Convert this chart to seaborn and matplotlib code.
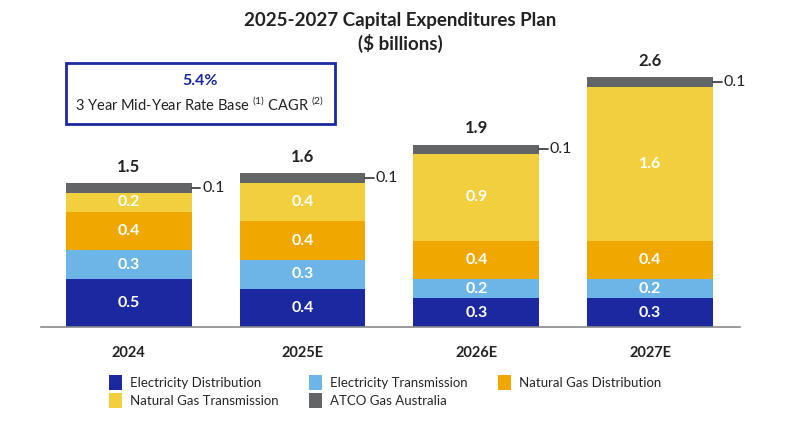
import numpy as np
import pandas as pd
import matplotlib
matplotlib.use('Agg')
import matplotlib.pyplot as plt
from matplotlib.patches import Patch, Rectangle
import seaborn as sns

years = ['2024', '2025E', '2026E', '2027E']
segments = ['Electricity Distribution', 'Electricity Transmission', 'Natural Gas Distribution',
            'Natural Gas Transmission', 'ATCO Gas Australia']
elec_dist = [0.5, 0.4, 0.3, 0.3]
elec_trans = [0.3, 0.3, 0.2, 0.2]
gas_dist = [0.4, 0.4, 0.4, 0.4]
gas_trans = [0.2, 0.4, 0.9, 1.6]
atco_aus = [0.1, 0.1, 0.1, 0.1]
totals = [1.5, 1.6, 1.9, 2.6]
colors = ['#1B28A0', '#6DB5E6', '#F0A800', '#F2CF3F', '#636466']

sns.set_style('white')
plt.rcParams['font.family'] = ['Lato', 'DejaVu Sans']
plt.rcParams['mathtext.fontset'] = 'custom'
plt.rcParams['mathtext.rm'] = 'Lato'

df = pd.DataFrame({'year': years, segments[0]: elec_dist, segments[1]: elec_trans,
                   segments[2]: gas_dist, segments[3]: gas_trans, segments[4]: atco_aus})
cum = df[segments].cumsum(axis=1)

fig = plt.figure(figsize=(8, 4.24), dpi=100)
ax = fig.add_axes([0.051, 0.2288, 0.874, 0.677])

# draw from the top layer down so each shorter bar covers the one behind
for seg, col in zip(segments[::-1], colors[::-1]):
    sns.barplot(x=df['year'], y=cum[seg], color=col, width=0.724, linewidth=0,
                saturation=1, ax=ax)

w = 0.724
for i in range(len(years)):
    base = 0
    for seg in segments[:-1]:
        v = df.loc[i, seg]
        ax.text(i, base + v / 2, f'{v:.1f}', ha='center', va='center', color='white',
                fontsize=11.5, fontweight='bold')
        base += v
    v = df.loc[i, segments[-1]]
    ymid = base + v / 2
    ax.plot([i + w / 2, i + w / 2 + 0.05], [ymid, ymid], color='#333333', lw=1.2, clip_on=False)
    ax.text(i + w / 2 + 0.06, ymid, f'{v:.1f}', ha='left', va='center', color='#222222', fontsize=11.5)
    ax.text(i, totals[i] + 0.17, f'{totals[i]:.1f}', ha='center', va='center', color='#222222',
            fontsize=12, fontweight='bold')

ax.set_xlim(-0.506, 3.517)
ax.set_ylim(0, 2.99)
ax.set_xlabel('')
ax.set_ylabel('')
ax.set_yticks([])
ax.tick_params(axis='x', length=0, pad=14)
for lab in ax.get_xticklabels():
    lab.set_fontweight('bold')
    lab.set_fontsize(10.5)
    lab.set_color('#222222')
for s in ['top', 'right', 'left']:
    ax.spines[s].set_visible(False)
ax.spines['bottom'].set_color('#8a8a8a')
ax.spines['bottom'].set_linewidth(1.2)

fig.text(0.5, 0.952, '2025-2027 Capital Expenditures Plan', ha='center', va='center',
         fontsize=13.5, fontweight='bold', color='#222222')
fig.text(0.5, 0.898, '($ billions)', ha='center', va='center',
         fontsize=13.5, fontweight='bold', color='#222222')

box = Rectangle((66 / 800, 1 - 124 / 424), 269 / 800, 61 / 424, transform=fig.transFigure,
                fill=False, edgecolor='#1B28A0', lw=2)
fig.patches.append(box)
fig.text(200 / 800, 1 - 81 / 424, '5.4%', ha='center', va='center', fontsize=11.5,
         fontweight='bold', color='#1B28A0')
fig.text(200 / 800, 1 - 104 / 424, r'3 Year Mid-Year Rate Base $^{\mathrm{(1)}}$ CAGR $^{\mathrm{(2)}}$',
         ha='center', va='center', fontsize=10.5, color='#222222')

order = [0, 3, 1, 4, 2]
handles = [Patch(facecolor=colors[k], edgecolor='none') for k in order]
labels = [segments[k] for k in order]
fig.legend(handles, labels, ncol=3, loc='upper left', bbox_to_anchor=(0.128, 0.13),
           frameon=False, fontsize=9.5, handlelength=1.0, handleheight=1.3,
           handletextpad=0.6, columnspacing=2.3, labelspacing=0.25, borderpad=0)

fig.savefig('out.png', dpi=100)
